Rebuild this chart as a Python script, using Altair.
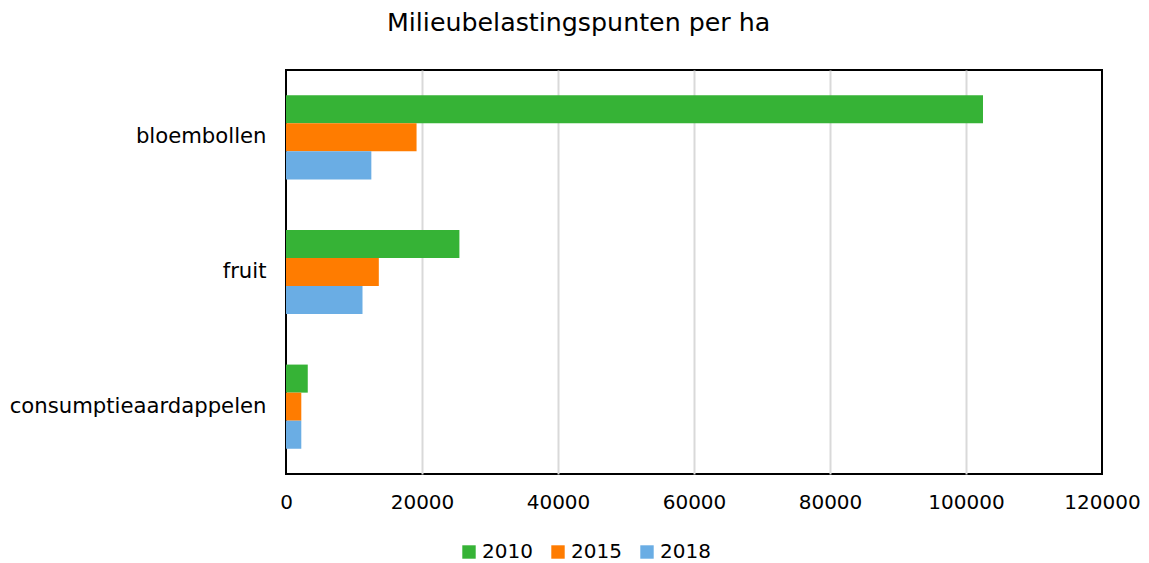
import altair as alt
import pandas as pd

categories = ["bloembollen", "fruit", "consumptieaardappelen"]
years = ["2010", "2015", "2018"]
v2010 = [102500, 25500, 3200]
v2015 = [19200, 13650, 2250]
v2018 = [12550, 11250, 2250]
colors = ["#36b336", "#ff7c00", "#6aade4"]

rows = []
for i, c in enumerate(categories):
    for y, vals in zip(years, [v2010, v2015, v2018]):
        rows.append({"cat": c, "year": y, "value": vals[i]})
df = pd.DataFrame(rows)

font = "DejaVu Sans"

chart = alt.Chart(df).mark_bar().encode(
    y=alt.Y("cat:N", sort=categories, title=None,
            scale=alt.Scale(paddingInner=0.375, paddingOuter=0.1875),
            axis=alt.Axis(labelFontSize=21.2, labelPadding=20, ticks=False, domain=False,
                          labelColor="#000000", labelFont=font, labelLimit=400)),
    yOffset=alt.YOffset("year:N", sort=years, scale=alt.Scale(paddingInner=0, paddingOuter=0)),
    x=alt.X("value:Q", title=None,
            scale=alt.Scale(domain=[0, 120000], nice=False),
            axis=alt.Axis(values=[0, 20000, 40000, 60000, 80000, 100000, 120000],
                          labelFontSize=20, labelPadding=18, ticks=False, domain=False,
                          gridColor={"condition": {"test": "datum.value === 0 || datum.value === 120000",
                                                   "value": "transparent"},
                                     "value": "#d9d9d9"},
                          gridWidth=2, labelColor="#000000",
                          labelFont=font, format="d", labelFlush=False)),
    color=alt.Color("year:N", sort=years,
                    scale=alt.Scale(domain=years, range=colors),
                    legend=alt.Legend(title=None, orient="none", direction="horizontal",
                                      legendX=173, legendY=472, symbolType="square",
                                      symbolSize=180, symbolStrokeWidth=0,
                                      labelFontSize=20, labelFont=font, labelColor="#000000",
                                      columnPadding=15, labelOffset=3)),
).properties(
    width=816, height=404,
    background="#ffffff",
    title=alt.TitleParams("Milieubelastingspunten per ha", fontSize=25.3, font=font,
                          fontWeight="normal", color="#000000", anchor="middle",
                          frame="bounds", offset=34, dx=4),
    autosize=alt.AutoSizeParams(type="none"),
    padding={"left": 286, "top": 70, "right": 47, "bottom": 89},
).configure_view(stroke="#000000", strokeWidth=2)

chart.save("out.html", embed_options={"renderer": "svg", "actions": False})
